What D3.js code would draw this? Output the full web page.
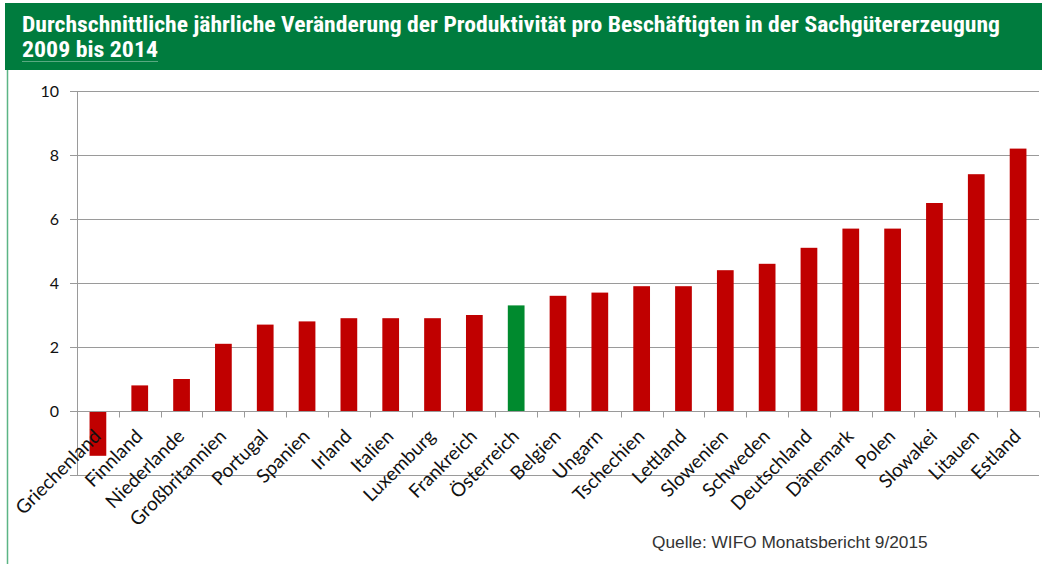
<!DOCTYPE html>
<html>
<head>
<meta charset="utf-8">
<script src="https://cdn.jsdelivr.net/npm/d3@7"></script>
<style>
  body { margin: 0; background: #fff; }
  svg { display: block; }
</style>
</head>
<body>
<svg id="chart" width="1052" height="564"></svg>
<script>
// data
const laender = ["Griechenland", "Finnland", "Niederlande", "Großbritannien", "Portugal", "Spanien",
  "Irland", "Italien", "Luxemburg", "Frankreich", "Österreich", "Belgien", "Ungarn", "Tschechien",
  "Lettland", "Slowenien", "Schweden", "Deutschland", "Dänemark", "Polen", "Slowakei", "Litauen", "Estland"];
const werte = [-1.4, 0.8, 1.0, 2.1, 2.7, 2.8, 2.9, 2.9, 2.9, 3.0, 3.3, 3.6, 3.7, 3.9,
  3.9, 4.4, 4.6, 5.1, 5.7, 5.7, 6.5, 7.4, 8.2];
const yTicks = [-2, 0, 2, 4, 6, 8, 10];
const hervorgehoben = "Österreich";

const titel1 = "Durchschnittliche jährliche Veränderung der Produktivität pro Beschäftigten in der Sachgütererzeugung";
const titel2 = "2009 bis 2014";
const quelle = "Quelle: WIFO Monatsbericht 9/2015";

const svg = d3.select("#chart");

// header band
svg.append("rect").attr("x", 5).attr("y", 3).attr("width", 1037).attr("height", 67).attr("fill", "#007c3e");
svg.append("line").attr("x1", 7.5).attr("x2", 7.5).attr("y1", 70).attr("y2", 564)
  .attr("stroke", "#5cb585").attr("stroke-width", 1.5);

const tf = "'Liberation Sans Narrow', 'Arial Narrow', 'Roboto Condensed', Arial, sans-serif";
svg.append("text").attr("x", 22).attr("y", 32).text(titel1)
  .attr("font-family", tf).attr("font-weight", "bold").attr("font-size", 22.5).attr("fill", "#fff")
  .attr("textLength", 978).attr("lengthAdjust", "spacingAndGlyphs");
svg.append("text").attr("x", 22).attr("y", 57).text(titel2)
  .attr("font-family", tf).attr("font-weight", "bold").attr("font-size", 22.5).attr("fill", "#fff")
  .attr("textLength", 136).attr("lengthAdjust", "spacingAndGlyphs");
svg.append("line").attr("x1", 22).attr("x2", 158).attr("y1", 61.5).attr("y2", 61.5)
  .attr("stroke", "#fff").attr("stroke-opacity", 0.35).attr("stroke-width", 1);

// scales
const x = d3.scaleBand().domain(laender).range([77, 1039]).paddingInner(0.6).paddingOuter(0.3);
const y = d3.scaleLinear().domain([-2, 10]).range([475, 91]);
const step = x.step();
const left = 77, right = 1039;

const lf = "Lato, 'Open Sans', Calibri, sans-serif";

// gridlines
svg.append("g").selectAll("line").data(yTicks).join("line")
  .attr("x1", left - 7).attr("x2", right)
  .attr("y1", d => Math.round(y(d)) + 0.5).attr("y2", d => Math.round(y(d)) + 0.5)
  .attr("stroke", "#9a9a9a").attr("stroke-width", 1);

// y axis line
svg.append("line").attr("x1", left + 0.5).attr("x2", left + 0.5)
  .attr("y1", y(10)).attr("y2", y(-2) + 0.5).attr("stroke", "#9a9a9a");

// y labels
svg.append("g").selectAll("text").data(yTicks.filter(d => d >= 0)).join("text")
  .attr("x", 59).attr("y", d => y(d)).attr("dy", "0.35em")
  .attr("text-anchor", "end").attr("font-family", lf).attr("font-size", 16).attr("fill", "#111")
  .text(d => d);

// bars
svg.append("g").selectAll("rect").data(laender).join("rect")
  .attr("x", d => x(d)).attr("width", x.bandwidth())
  .attr("y", (d, i) => y(Math.max(0, werte[i])))
  .attr("height", (d, i) => Math.abs(y(werte[i]) - y(0)))
  .attr("fill", d => d === hervorgehoben ? "#008a2e" : "#c00000");

// zero axis with category ticks
const y0 = Math.round(y(0)) + 0.5;
svg.append("line").attr("x1", left).attr("x2", right).attr("y1", y0).attr("y2", y0).attr("stroke", "#9a9a9a");
svg.append("g").selectAll("line").data(d3.range(laender.length + 1)).join("line")
  .attr("x1", i => Math.round(left + i * step) + 0.5).attr("x2", i => Math.round(left + i * step) + 0.5)
  .attr("y1", y0).attr("y2", y0 + 6).attr("stroke", "#9a9a9a");

// category labels, rotated
svg.append("g").selectAll("text").data(laender).join("text")
  .attr("transform", d => `translate(${x(d) + x.bandwidth() / 2 + 4},${y0 + 26}) rotate(-45)`)
  .attr("text-anchor", "end").attr("font-family", lf).attr("font-size", 19).attr("fill", "#111")
  .text(d => d);

// source
svg.append("text").attr("x", 652).attr("y", 548).text(quelle)
  .attr("font-family", "'Liberation Sans', Arial, sans-serif").attr("font-size", 17.3).attr("fill", "#333");
</script>
</body>
</html>
